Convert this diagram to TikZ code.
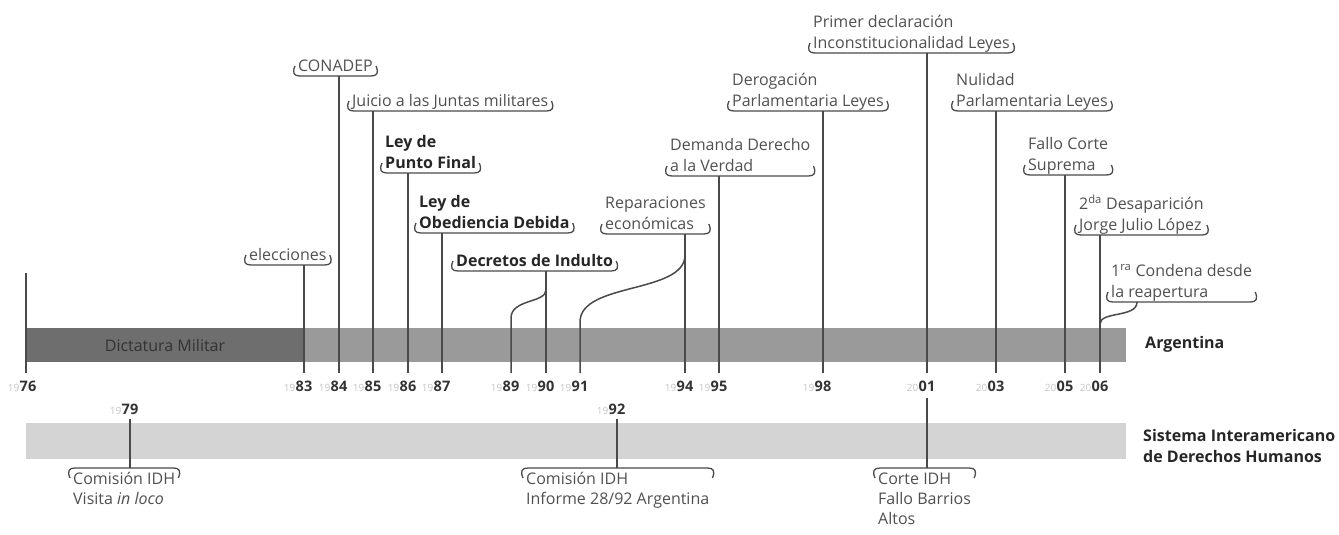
\documentclass[tikz,border=0pt]{standalone}
\usepackage{fontspec}
\setmainfont{Open Sans}
\definecolor{darkbar}{HTML}{6E6E6E}
\definecolor{midbar}{HTML}{9A9A9A}
\definecolor{palebar}{HTML}{D4D4D4}
\definecolor{ink}{HTML}{4A4A4A}
\definecolor{txt}{HTML}{505050}
\definecolor{boldtxt}{HTML}{262626}
\definecolor{yrtxt}{HTML}{333333}
\definecolor{yrpretxt}{HTML}{C4C4C4}
\tikzset{
  evtext/.style={inner sep=0pt, align=left, font=\fontsize{16}{21}\selectfont, text=txt},
  evlow/.style={inner sep=0pt, align=left, font=\fontsize{16}{20}\selectfont, text=txt},
  evbold/.style={inner sep=0pt, align=left, font=\fontsize{16}{21}\selectfont\bfseries, text=boldtxt},
  brk/.style={draw=ink, line width=1.3pt},
  evline/.style={draw=ink, line width=1.5pt},
  yrbold/.style={inner sep=0pt, font=\fontsize{14.5}{15}\selectfont\bfseries, text=yrtxt, anchor=base},
  yrpre/.style={inner sep=0pt, font=\fontsize{10}{10}\selectfont, text=yrpretxt, anchor=base east},
  bartitle/.style={inner sep=0pt, align=left, font=\fontsize{16}{21}\selectfont\bfseries, text=boldtxt, anchor=west}
}
\newcommand\yearlab[5]{%
  \node[yrbold] (#1) at (#2,#3) {#5};
  \node[yrpre] (#1p) at (#1.base west) {#4};
}
% upper event: name, style, text x, bracket y, text  (base anchor = last line)
\newcommand\evup[5]{%
  \node[#2, anchor=base west] (#1) at (#3,{#4-4.5}) {#5};
  \coordinate (#1b) at (0,#4);
  \path (#1.west |- #1b) coordinate (#1L) (#1.east |- #1b) coordinate (#1R);
  \draw[brk] ([shift={(-3,-10)}]#1L) .. controls ([shift={(-6,-3)}]#1L) and ([shift={(-4,0)}]#1L) .. ([shift={(2,0)}]#1L) -- ([shift={(-2,0)}]#1R) .. controls ([shift={(4,0)}]#1R) and ([shift={(6,-3)}]#1R) .. ([shift={(3,-10)}]#1R);
}
% lower event: name, text x, bracket y, lines, text
\newcommand\evdn[5]{%
  \node[evlow, anchor=base west] (#1) at (#2,{#3+16+20*(#4-1)}) {#5};
  \coordinate (#1b) at (0,#3);
  \path (#1.west |- #1b) coordinate (#1L) (#1.east |- #1b) coordinate (#1R);
  \draw[brk] ([shift={(-3,10)}]#1L) .. controls ([shift={(-6,3)}]#1L) and ([shift={(-4,0)}]#1L) .. ([shift={(2,0)}]#1L) -- ([shift={(-2,0)}]#1R) .. controls ([shift={(4,0)}]#1R) and ([shift={(6,3)}]#1R) .. ([shift={(3,10)}]#1R);
}
\begin{document}
\begin{tikzpicture}[x=1pt,y=-1pt]
\useasboundingbox (0,0) rectangle (1339,535);
% bars
\fill[midbar] (26,328) rectangle (1126,362);
\fill[darkbar] (26,328) rectangle (304,362);
\fill[palebar] (26,423) rectangle (1126,459);
\node[inner sep=0pt, font=\fontsize{16}{18}\selectfont, text=yrtxt] (dict) at (165,345) {Dictatura Militar};
\node[bartitle] (arg) at (1145,344) {Argentina};
\node[bartitle, anchor=west] (sidh) at (1143,446) {Sistema Interamericano\\de Derechos Humanos};

% year labels
\yearlab{y76}{28}{391}{19}{76}
\yearlab{y83}{304}{391}{19}{83}
\yearlab{y84}{339}{391}{19}{84}
\yearlab{y85}{373}{391}{19}{85}
\yearlab{y86}{408}{391}{19}{86}
\yearlab{y87}{442}{391}{19}{87}
\yearlab{y89}{511}{391}{19}{89}
\yearlab{y90}{546}{391}{19}{90}
\yearlab{y91}{580}{391}{19}{91}
\yearlab{y94}{685}{391}{19}{94}
\yearlab{y95}{719}{391}{19}{95}
\yearlab{y98}{823}{391}{19}{98}
\yearlab{y01}{927}{391}{20}{01}
\yearlab{y03}{996}{391}{20}{03}
\yearlab{y05}{1065}{391}{20}{05}
\yearlab{y06}{1100}{391}{20}{06}
\yearlab{y79}{130}{414}{19}{79}
\yearlab{y92}{617}{414}{19}{92}

% upper events
\evup{elec}{evtext}{249}{265}{elecciones}
\evup{conadep}{evtext}{298}{76}{CONADEP}
\evup{juicio}{evtext}{352}{111}{Juicio a las Juntas militares}
\evup{punto}{evbold}{385}{173}{Ley de\\Punto Final}
\evup{obed}{evbold}{419}{233}{Ley de\\Obediencia Debida}
\evup{indulto}{evbold}{456}{271}{Decretos de Indulto}
\evup{repar}{evtext}{605}{234}{Reparaciones\\económicas}
\evup{demanda}{evtext}{670}{176}{Demanda Derecho\\a la Verdad}
\evup{derog}{evtext}{732}{111}{Derogación\\Parlamentaria Leyes}
\evup{primer}{evtext}{813}{53}{Primer declaración\\Inconstitucionalidad Leyes}
\evup{nulidad}{evtext}{956}{111}{Nulidad\\Parlamentaria Leyes}
\evup{fallo}{evtext}{1028}{175}{Fallo Corte\\Suprema}
\evup{desap}{evtext}{1079}{235}{2\textsuperscript{da} Desaparición\\Jorge Julio López}
\evup{condena}{evtext}{1111}{302}{1\textsuperscript{ra} Condena desde\\la reapertura}

% lower events
\evdn{cidh79}{73}{468}{2}{Comisión IDH\\Visita \textit{in loco}}
\evdn{cidh92}{526}{468}{2}{Comisión IDH\\Informe 28/92 Argentina}
\evdn{corte}{878}{468}{3}{Corte IDH\\Fallo Barrios\\Altos}

% attach points
\coordinate (a83) at (304,265);
\coordinate (a84) at (339,76);
\coordinate (a85) at (373,111);
\coordinate (a86) at (408,173);
\coordinate (a87) at (442,233);
\coordinate (a90) at (546,271);
\coordinate (a94) at (685,234);
\coordinate (a95) at (719,176);
\coordinate (a98) at (823,111);
\coordinate (a01) at (927,53);
\coordinate (a03) at (996,111);
\coordinate (a05) at (1065,175);
\coordinate (a06) at (1100,235);
\coordinate (a76) at (26,273);
\coordinate (ccond) at (1137,302);
% lower attach
\coordinate (l79) at (130,468);
\coordinate (l92) at (617,468);
\coordinate (l01) at (927,468);

% vertical lines
\draw[evline, line width=2.2pt] (a76) -- (a76 |- 0,373);
\foreach \n in {83,84,85,86,87,90,94,95,98,01,03,05,06}{
  \draw[evline] (a\n) -- (a\n |- 0,373);
}
% branches
\draw[evline] (546,290) .. controls (546,303) and (511,299) .. (511,318) -- (511,373);
\draw[evline] (685,255) .. controls (685,294) and (580,282) .. (580,322) -- (580,373);
\draw[evline] (ccond) .. controls (1137,318) and (1100,311) .. (1100,324);
% lower lines
\draw[evline] (l79) -- (130,419);
\draw[evline] (l92) -- (617,419);
\draw[evline] (l01) -- (927,398);
\end{tikzpicture}
\end{document}
